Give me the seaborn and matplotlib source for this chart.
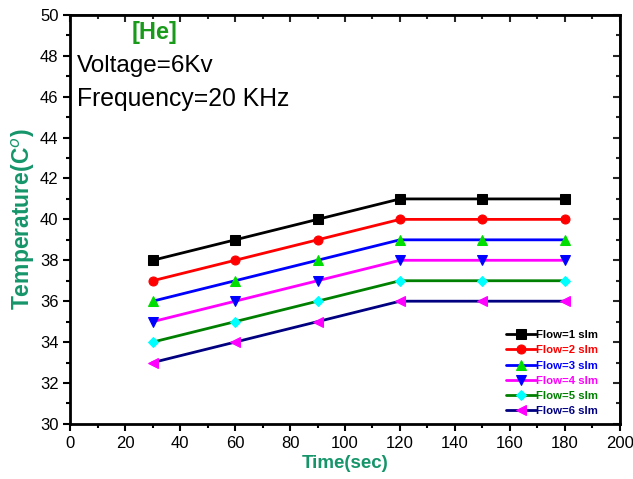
import matplotlib
matplotlib.use("Agg")
import matplotlib.pyplot as plt
from matplotlib.ticker import MultipleLocator
import pandas as pd
import seaborn as sns

sns.set_theme(style="white")
plt.rcParams["font.family"] = ["Liberation Sans", "DejaVu Sans"]

time_sec = [30, 60, 90, 120, 150, 180]
flow_labels = ["Flow=1 slm", "Flow=2 slm", "Flow=3 slm", "Flow=4 slm", "Flow=5 slm", "Flow=6 slm"]
flow1 = [38, 39, 40, 41, 41, 41]
flow2 = [37, 38, 39, 40, 40, 40]
flow3 = [36, 37, 38, 39, 39, 39]
flow4 = [35, 36, 37, 38, 38, 38]
flow5 = [34, 35, 36, 37, 37, 37]
flow6 = [33, 34, 35, 36, 36, 36]
series = [flow1, flow2, flow3, flow4, flow5, flow6]

line_colors = ["black", "red", "blue", "magenta", "green", "navy"]
marker_colors = ["black", "red", "#00dd00", "blue", "cyan", "magenta"]
markers = ["s", "o", "^", "v", "D", "<"]
label_color = "#16956a"

fig, ax = plt.subplots(figsize=(6.33, 4.79), dpi=100)
fig.subplots_adjust(left=0.111, right=0.979, top=0.969, bottom=0.115)

for vals, lab, lc, mc, mk in zip(series, flow_labels, line_colors, marker_colors, markers):
    df = pd.DataFrame({"Time": time_sec, "Temp": vals})
    sns.lineplot(data=df, x="Time", y="Temp", ax=ax, color=lc, linewidth=2,
                 marker=mk, markersize=6.5 if mk != "D" else 5.5,
                 markerfacecolor=mc, markeredgecolor=mc, label=lab)

ax.set_xlim(0, 200)
ax.set_ylim(30, 50)
ax.xaxis.set_major_locator(MultipleLocator(20))
ax.xaxis.set_minor_locator(MultipleLocator(10))
ax.yaxis.set_major_locator(MultipleLocator(2))
ax.yaxis.set_minor_locator(MultipleLocator(1))
ax.tick_params(which="both", direction="out", bottom=True, left=True, width=1.5, colors="black")
ax.tick_params(which="major", length=5, labelsize=12)
ax.tick_params(which="minor", length=3)
for s in ax.spines.values():
    s.set_linewidth(2)
    s.set_color("black")

# inward ticks on top and right
top = ax.secondary_xaxis("top")
top.xaxis.set_major_locator(MultipleLocator(20))
top.xaxis.set_minor_locator(MultipleLocator(10))
top.tick_params(which="both", direction="in", labeltop=False, width=1.5)
top.tick_params(which="major", length=5)
top.tick_params(which="minor", length=3)
right = ax.secondary_yaxis("right")
right.yaxis.set_major_locator(MultipleLocator(2))
right.yaxis.set_minor_locator(MultipleLocator(1))
right.tick_params(which="both", direction="in", labelright=False, width=1.5)
right.tick_params(which="major", length=5)
right.tick_params(which="minor", length=3)

ax.set_xlabel("Time(sec)", fontsize=13.5, fontweight="bold", color=label_color, labelpad=3)
ax.set_ylabel("Temperature(C$^{o}$)", fontsize=16.5, fontweight="bold", color=label_color, labelpad=2)

ax.text(0.112, 0.985, "[He]", transform=ax.transAxes, fontsize=17, fontweight="bold",
        color="#1a9a1a", ha="left", va="top")
ax.text(0.012, 0.903, "Voltage=6Kv", transform=ax.transAxes, fontsize=17.5, color="black",
        ha="left", va="top")
ax.text(0.012, 0.824, "Frequency=20 KHz", transform=ax.transAxes, fontsize=17.8, color="black",
        ha="left", va="top")

leg = ax.legend(loc="lower right", bbox_to_anchor=(0.975, 0.0), frameon=False,
                prop={"size": 8.2, "weight": "bold"}, handlelength=2.6, handletextpad=0.0,
                labelspacing=0.45, borderaxespad=0.3)
for txt, c in zip(leg.get_texts(), line_colors):
    txt.set_color(c)

fig.savefig("out.png", dpi=100)
